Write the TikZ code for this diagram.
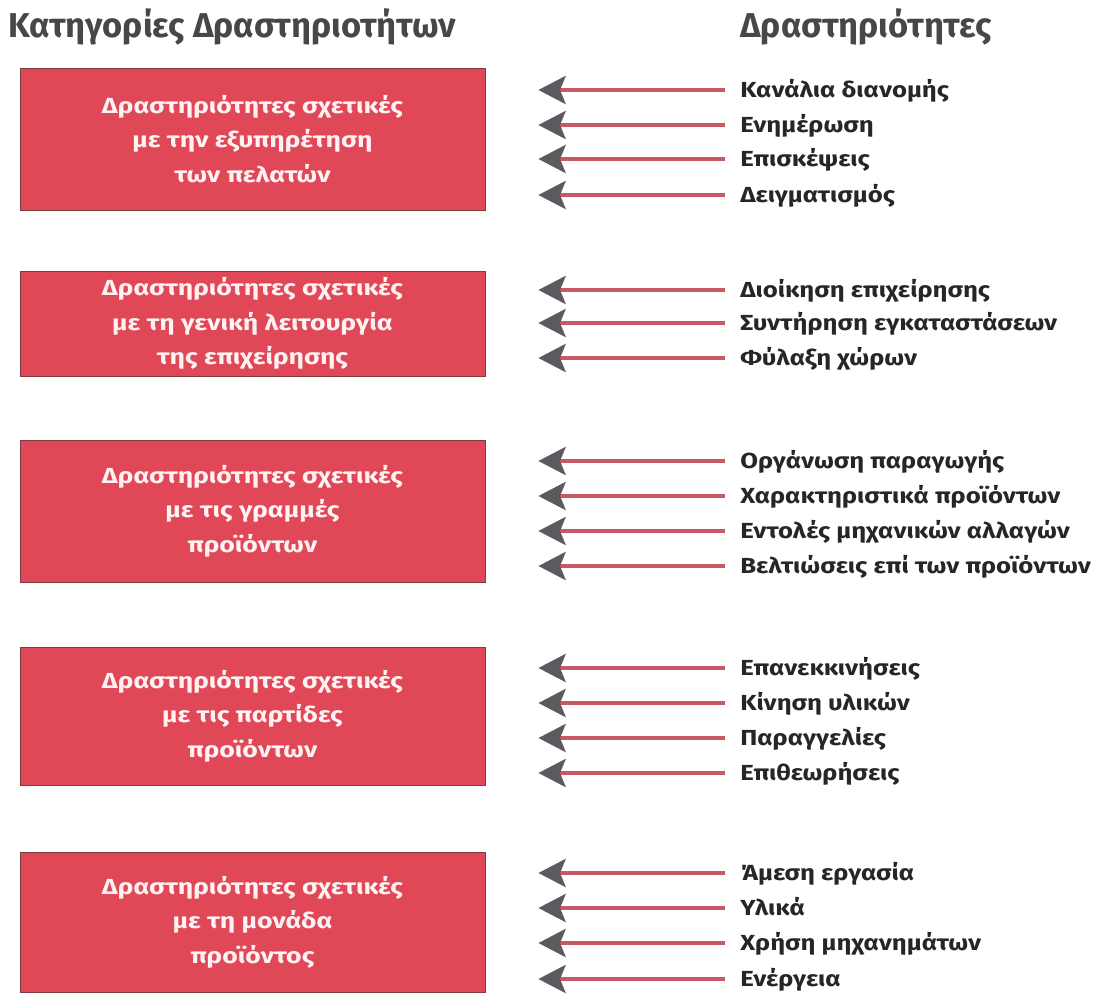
\documentclass[tikz,border=0pt]{standalone}
\usepackage{fontspec}
\setmainfont{Fira Sans}
\newfontfamily\widesans{Fira Sans}[FakeStretch=1.22]
\newfontfamily\actsans{Fira Sans}[FakeStretch=1.18]
\usetikzlibrary{arrows.meta,positioning}
\definecolor{boxred}{RGB}{224,72,88}
\definecolor{boxedge}{RGB}{125,60,64}
\definecolor{linered}{RGB}{200,88,102}
\definecolor{tipgray}{RGB}{92,90,94}
\definecolor{inkgray}{RGB}{38,38,40}
\tikzset{
  catbox/.style={ % red box of one activity category
    draw=boxedge, fill=boxred, line width=0.6pt,
    rectangle, minimum width=11.625cm, inner sep=0pt,
    align=center, text=white!95!red,
    font=\widesans\bfseries\fontsize{15.5}{24.5}\selectfont
  },
  act/.style={ % one activity, right column
    anchor=west, inner sep=0pt, text height=10.6pt, text depth=0pt,
    text=inkgray, font=\actsans\bfseries\fontsize{15.5}{18}\selectfont
  },
  heading/.style={ % column heading
    anchor=west, inner sep=0pt, text height=17pt, text depth=0pt,
    text=inkgray!85, font=\bfseries\fontsize{24.5}{30}\selectfont
  },
  toward/.style={ % arrow from an activity back to its category
    linered, line width=3pt,
    -{Stealth[length=0.68cm, width=0.7cm, inset=0.14cm, color=tipgray]},
    shorten >=1.325cm, shorten <=0.375cm
  }
}

\begin{document}
\begin{tikzpicture}
  \useasboundingbox (0,0) rectangle (27.5,-25);

  % headings
  \node[heading] (cat_head) at (0.2,-0.64) {Κατηγορίες Δραστηριοτήτων};
  \node[heading] (act_head) at (18.5,-0.64) {Δραστηριότητες};

  % category boxes
  \node[catbox, minimum height=3.55cm] (cat1) at (6.3125,-3.475)
    {Δραστηριότητες σχετικές\\με την εξυπηρέτηση\\των πελατών};
  \node[catbox, minimum height=2.625cm] (cat2) at (6.3125,-8.09)
    {Δραστηριότητες σχετικές\\με τη γενική λειτουργία\\της επιχείρησης};
  \node[catbox, minimum height=3.55cm] (cat3) at (6.3125,-12.775)
    {Δραστηριότητες σχετικές\\με τις γραμμές\\προϊόντων};
  \node[catbox, minimum height=3.45cm] (cat4) at (6.3125,-17.9)
    {Δραστηριότητες σχετικές\\με τις παρτίδες\\προϊόντων};
  \node[catbox, minimum height=3.5cm] (cat5) at (6.3125,-23.05)
    {Δραστηριότητες σχετικές\\με τη μονάδα\\προϊόντος};

  % activities
  \node[act] (a11) at (18.5,-2.25)   {Κανάλια διανομής};
  \node[act] (a12) at (18.5,-3.125)  {Ενημέρωση};
  \node[act] (a13) at (18.5,-3.975)  {Επισκέψεις};
  \node[act] (a14) at (18.5,-4.875)  {Δειγματισμός};

  \node[act] (a21) at (18.5,-7.25)   {Διοίκηση επιχείρησης};
  \node[act] (a22) at (18.5,-8.075)  {Συντήρηση εγκαταστάσεων};
  \node[act] (a23) at (18.5,-8.95)   {Φύλαξη χώρων};

  \node[act] (a31) at (18.5,-11.525) {Οργάνωση παραγωγής};
  \node[act] (a32) at (18.5,-12.4)   {Χαρακτηριστικά προϊόντων};
  \node[act] (a33) at (18.5,-13.275) {Εντολές μηχανικών αλλαγών};
  \node[act] (a34) at (18.5,-14.15)  {Βελτιώσεις επί των προϊόντων};

  \node[act] (a41) at (18.5,-16.7)   {Επανεκκινήσεις};
  \node[act] (a42) at (18.5,-17.575) {Κίνηση υλικών};
  \node[act] (a43) at (18.5,-18.45)  {Παραγγελίες};
  \node[act] (a44) at (18.5,-19.325) {Επιθεωρήσεις};

  \node[act] (a51) at (18.5,-21.825) {Άμεση εργασία};
  \node[act] (a52) at (18.5,-22.7)   {Υλικά};
  \node[act] (a53) at (18.5,-23.575) {Χρήση μηχανημάτων};
  \node[act] (a54) at (18.5,-24.475) {Ενέργεια};

  % arrows
  \foreach \a in {a11,a12,a13,a14} \draw[toward] (\a.west) -- (\a.west -| cat1.east);
  \foreach \a in {a21,a22,a23} \draw[toward] (\a.west) -- (\a.west -| cat2.east);
  \foreach \a in {a31,a32,a33,a34} \draw[toward] (\a.west) -- (\a.west -| cat3.east);
  \foreach \a in {a41,a42,a43,a44} \draw[toward] (\a.west) -- (\a.west -| cat4.east);
  \foreach \a in {a51,a52,a53,a54} \draw[toward] (\a.west) -- (\a.west -| cat5.east);
\end{tikzpicture}
\end{document}
